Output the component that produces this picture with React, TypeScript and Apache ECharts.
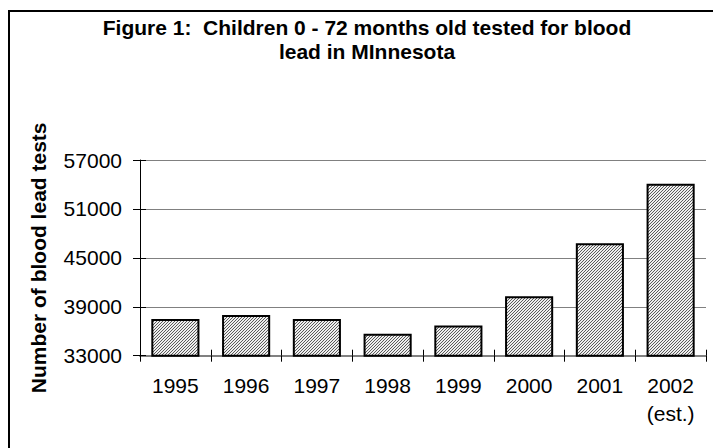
import React, { useEffect, useRef } from 'react';
import * as echarts from 'echarts';

const categories = ['1995', '1996', '1997', '1998', '1999', '2000', '2001', '2002\n(est.)'];
const testCounts = [37500, 38000, 37500, 35700, 36700, 40300, 46800, 54100];
const yMin = 33000;
const yMax = 57000;
const yStep = 6000;
const titleLines = ['Figure 1:  Children 0 - 72 months old tested for blood', 'lead in MInnesota'];
const yAxisTitle = 'Number of blood lead tests';

const FONT = '"Liberation Sans", Arial, sans-serif';

function makePattern(): HTMLCanvasElement {
  const c = document.createElement('canvas');
  c.width = 3;
  c.height = 3;
  const ctx = c.getContext('2d')!;
  ctx.fillStyle = '#eeeeee';
  ctx.fillRect(0, 0, 3, 3);
  ctx.fillStyle = '#5a5a5a';
  for (let x = 0; x < 3; x++) {
    for (let y = 0; y < 3; y++) {
      if ((x + y) % 3 === 0) ctx.fillRect(x, y, 1, 1);
    }
  }
  return c;
}

export default function App() {
  const ref = useRef<HTMLDivElement>(null);
  useEffect(() => {
    if (!ref.current) return;
    const chart = echarts.init(ref.current, undefined, { renderer: 'svg' });
    const pattern = makePattern();
    chart.setOption({
      animation: false,
      backgroundColor: '#ffffff',
      textStyle: { fontFamily: FONT },
      graphic: [
        {
          type: 'rect',
          silent: true,
          z: -1,
          shape: { x: 9, y: 11, width: 1000, height: 1000 },
          style: { fill: 'none', stroke: '#000', lineWidth: 2 },
        },
        {
          type: 'text',
          x: 367,
          y: 27,
          style: {
            text: titleLines[0],
            font: `bold 21px ${FONT}`,
            fill: '#000',
            textAlign: 'center',
            textVerticalAlign: 'middle',
          },
        },
        {
          type: 'text',
          x: 367,
          y: 51,
          style: {
            text: titleLines[1],
            font: `bold 21px ${FONT}`,
            fill: '#000',
            textAlign: 'center',
            textVerticalAlign: 'middle',
          },
        },
      ],
      grid: { left: 140, right: 7, top: 160, bottom: 92.3, containLabel: false },
      xAxis: [
        {
          type: 'category',
          data: categories,
          position: 'bottom',
          axisLine: { show: true, lineStyle: { color: '#808080', width: 2 } },
          axisTick: { show: true, inside: false, length: 6, lineStyle: { color: '#000', width: 1 } },
          axisLabel: {
            color: '#000',
            fontSize: 21,
            fontFamily: FONT,
            lineHeight: 28,
            margin: 16,
            interval: 0,
          },
          splitLine: { show: false },
        },
        {
          type: 'category',
          data: categories,
          position: 'bottom',
          offset: 0,
          axisLine: { show: false },
          axisTick: { show: true, inside: true, length: 6, lineStyle: { color: '#000', width: 1 } },
          axisLabel: { show: false },
          splitLine: { show: false },
        },
      ],
      yAxis: [
        {
          type: 'value',
          min: yMin,
          max: yMax,
          interval: yStep,
          position: 'left',
          name: yAxisTitle,
          nameLocation: 'middle',
          nameRotate: 90,
          nameGap: 91,
          nameTextStyle: { color: '#000', fontSize: 21, fontWeight: 'bold', fontFamily: FONT },
          axisLine: { show: true, lineStyle: { color: '#000', width: 1 } },
          axisTick: { show: true, inside: false, length: 7, lineStyle: { color: '#000', width: 1 } },
          axisLabel: {
            color: '#000',
            fontSize: 21,
            fontFamily: FONT,
            margin: 18,
            formatter: (v: number) => String(v),
          },
          splitLine: { show: true, lineStyle: { color: '#808080', width: 1 } },
        },
        {
          type: 'value',
          min: yMin,
          max: yMax,
          interval: yStep,
          position: 'left',
          offset: 0,
          axisLine: { show: false },
          axisTick: { show: true, inside: true, length: 6, lineStyle: { color: '#000', width: 1 } },
          axisLabel: { show: false },
          splitLine: { show: false },
        },
      ],
      series: [
        {
          type: 'bar',
          xAxisIndex: 0,
          yAxisIndex: 0,
          data: testCounts,
          barCategoryGap: '32%',
          itemStyle: {
            color: { image: pattern, repeat: 'repeat' } as any,
            borderColor: '#000',
            borderWidth: 2,
          },
        },
      ],
    });
    return () => chart.dispose();
  }, []);
  return (
    <div
      ref={ref}
      style={{ position: 'fixed', left: 0, top: 0, width: 713, height: 448 }}
    />
  );
}
